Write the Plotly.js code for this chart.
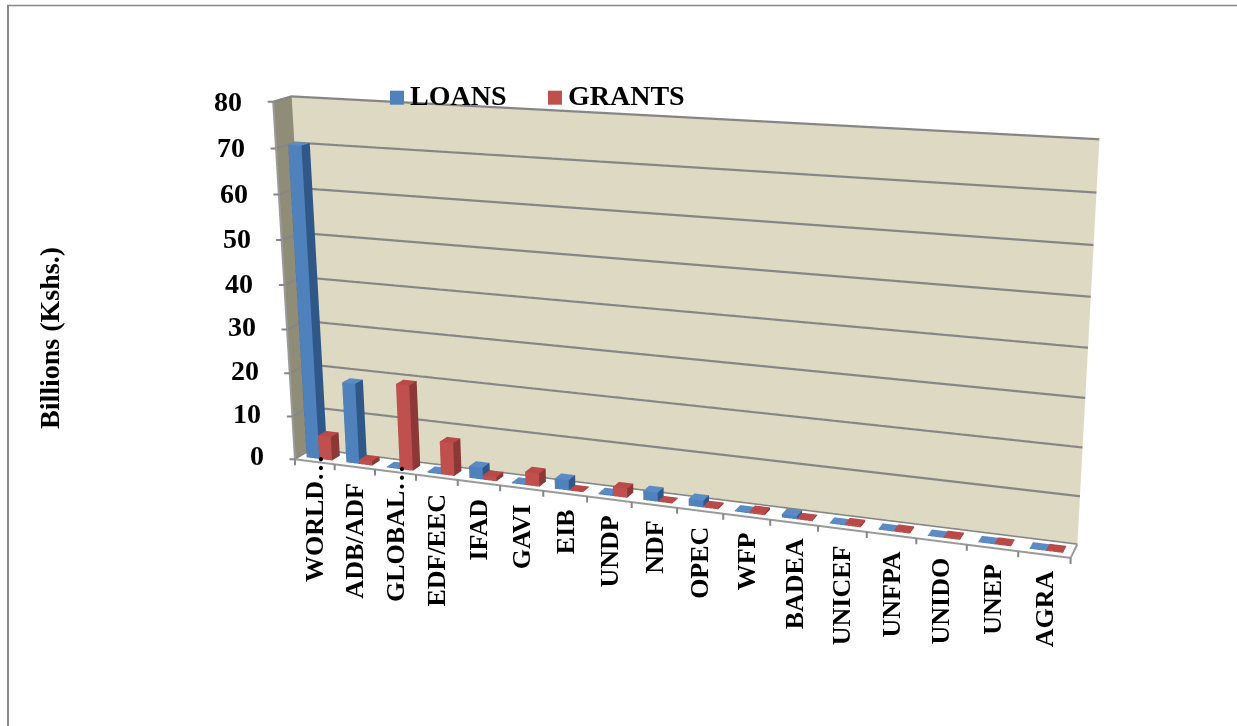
<!DOCTYPE html>
<html><head><meta charset="utf-8">
<script>
const H=Math.round(2031.8/1.2071),W=1237,CY=363,top0=Math.round(CY-H/2);
Object.defineProperty(window,'innerHeight',{get:()=>H,configurable:true});
</script>
<script src="https://cdn.plot.ly/plotly-3.0.1.min.js"></script>
<style>html,body{margin:0;padding:0;background:#fff;overflow:hidden;width:1237px;height:726px}</style>
</head><body><div id="chart"></div>
<script>
const categories=["WORLD…","ADB/ADF","GLOBAL…","EDF/EEC","IFAD","GAVI","EIB","UNDP","NDF","OPEC","WFP","BADEA","UNICEF","UNFPA","UNIDO","UNEP","AGRA"];
const loans=[70.5,18.5,0.2,0.3,2.7,0.2,2.3,0.3,2,1.5,0.2,0.7,0.1,0.1,0.1,0.1,0.1];
const grants=[5.5,1,19.5,7.5,1,3,0.1,2,0.1,0.3,0.5,0.2,0.4,0.3,0.3,0.2,0.2];
const zTicks=[0,10,20,30,40,50,60,70,80];
const [ex,ey,ez,cx,cy,cz,ux,ax,ay,f]=[1.7833,-4.6701,1.3365,-0.0866,-0.0679,-0.1202,0.0137,2.1425,0.0945,2031.8];
const el=document.getElementById('chart');el.style.cssText=`position:absolute;left:0;top:${top0}px;width:${W}px;height:${H}px`;
const px=x=>x/W,py=y=>1-(y-top0)/H;
const barW=.32,y0=.27,y1=.73,nCat=categories.length,gray='#868686';
function barsMesh(vals,off,cols,name){const xs=[],ys=[],zs=[],I=[],J=[],K=[],fc=[];
 vals.forEach((v,c)=>{const a=c+off,b=a+barW,n=xs.length;
  [[a,y0,0],[b,y0,0],[b,y1,0],[a,y1,0],[a,y0,v],[b,y0,v],[b,y1,v],[a,y1,v]].forEach(q=>{xs.push(q[0]);ys.push(q[1]);zs.push(q[2]);});
  [[0,1,5,0],[0,5,4,0],[1,2,6,1],[1,6,5,1],[4,5,6,2],[4,6,7,2],[3,0,4,1],[3,4,7,1],[2,3,7,1],[2,7,6,1]].forEach(t=>{I.push(n+t[0]);J.push(n+t[1]);K.push(n+t[2]);fc.push(cols[t[3]]);});
 });
 return {type:'mesh3d',x:xs,y:ys,z:zs,i:I,j:J,k:K,facecolor:fc,flatshading:true,lighting:{ambient:1,diffuse:0,specular:0,fresnel:0,roughness:1},hoverinfo:'skip',name:name,showlegend:false,showscale:false,scene:'scene'};}
const legendTrace=(n,c)=>({type:'scatter',x:[null],y:[null],mode:'markers',name:n,marker:{symbol:'square',size:14,color:c},xaxis:'x',yaxis:'y'});
function lineTrace(pts,w,c){return {type:'scatter3d',mode:'lines',x:pts.map(p=>p?p[0]:null),y:pts.map(p=>p?p[1]:null),z:pts.map(p=>p?p[2]:null),line:{color:c,width:w},hoverinfo:'skip',showlegend:false,scene:'scene'};}
const gridPts=[];zTicks.forEach(z=>{gridPts.push([0,0,z],[0,1,z],[nCat,1,z],null);});
const edgePts=[[0,0,80],[0,0,0],[nCat,0,0],[nCat,1,0]];
const data=[barsMesh(loans,.18,['#4F81BD','#2F5788','#5B8BC5'],'LOANS'),barsMesh(grants,.5,['#C0504D','#8C3836','#B94A47'],'GRANTS'),lineTrace(gridPts,4.5,gray),lineTrace(edgePts,4,'#9A9A9A'),legendTrace('LOANS','#4F81BD'),legendTrace('GRANTS','#C0504D')];
const fontB={family:'Liberation Serif',weight:700,color:'#000'};
const tick=(x,y,z,a,b)=>({x:x,y:y,z:z,text:' ',showarrow:true,ax:a,ay:b,arrowhead:0,arrowwidth:2,arrowcolor:gray,standoff:0,startstandoff:0,font:{size:1}});
const xTickAnn=Array.from({length:nCat+1},(_,i)=>tick(i,0,0,0,8));
const zTickAnn=zTicks.map(z=>tick(0,0,z,-7,0));
const xAnn=categories.map((c,i)=>({x:i+.5,y:0,z:0,text:c,showarrow:false,textangle:-90,xanchor:'center',yanchor:'top',yshift:c.endsWith('…')?9:-14,font:Object.assign({size:26},fontB)}));
const zAnn=zTicks.map(z=>({x:0,y:0,z:z,text:String(z),showarrow:false,xanchor:'right',yanchor:'middle',xshift:-29,yshift:4*(1-z/80),font:Object.assign({size:28},fontB)}));
const bareAxis={showticklabels:false,showgrid:false,showline:false,ticks:'',showbackground:true,title:{text:''},zeroline:false,showspikes:false};
const layout={width:W,height:H,margin:{l:0,r:0,t:0,b:0},paper_bgcolor:'#fff',plot_bgcolor:'rgba(0,0,0,0)',showlegend:true,
 legend:{orientation:'h',x:px(377),y:py(73),xanchor:'left',yanchor:'top',entrywidth:113,entrywidthmode:'pixels',itemwidth:30,font:Object.assign({size:28},fontB),bgcolor:'rgba(0,0,0,0)'},
 xaxis:{visible:false,domain:[0,.01]},yaxis:{visible:false,domain:[0,.01]},
 scene:{domain:{x:[0,1],y:[0,1]},dragmode:'orbit',aspectmode:'manual',aspectratio:{x:ax,y:ay,z:1},
  camera:{eye:{x:ex,y:ey,z:ez},center:{x:cx,y:cy,z:cz},up:{x:ux,y:0,z:1},projection:{type:'perspective'}},
  xaxis:Object.assign({range:[0,nCat],tickvals:[],backgroundcolor:'#8F8C78'},bareAxis),
  yaxis:Object.assign({range:[0,1],tickvals:[],backgroundcolor:'#DDD9C3'},bareAxis),
  zaxis:Object.assign({range:[0,80],tickvals:[],backgroundcolor:'#fff'},bareAxis),
  annotations:xAnn.concat(zAnn,xTickAnn,zTickAnn)},
 annotations:[{xref:'paper',yref:'paper',x:px(49),y:py(338),xanchor:'center',yanchor:'middle',text:'Billions (Kshs.)',showarrow:false,textangle:-90,font:Object.assign({size:28},fontB)}],
 shapes:[{type:'line',xref:'paper',yref:'paper',x0:px(7),x1:px(1237),y0:py(5.5),y1:py(5.5),line:{color:gray,width:1.6}},{type:'line',xref:'paper',yref:'paper',x0:px(8),x1:px(8),y0:py(5),y1:py(726),line:{color:gray,width:2}}]};
Plotly.newPlot(el,data,layout,{displayModeBar:false}).then(()=>{
 document.querySelectorAll('.legendtext').forEach(t=>{t.setAttribute('x',parseFloat(t.getAttribute('x'))-7);t.setAttribute('y',parseFloat(t.getAttribute('y'))-4);});
});
</script></body></html>
